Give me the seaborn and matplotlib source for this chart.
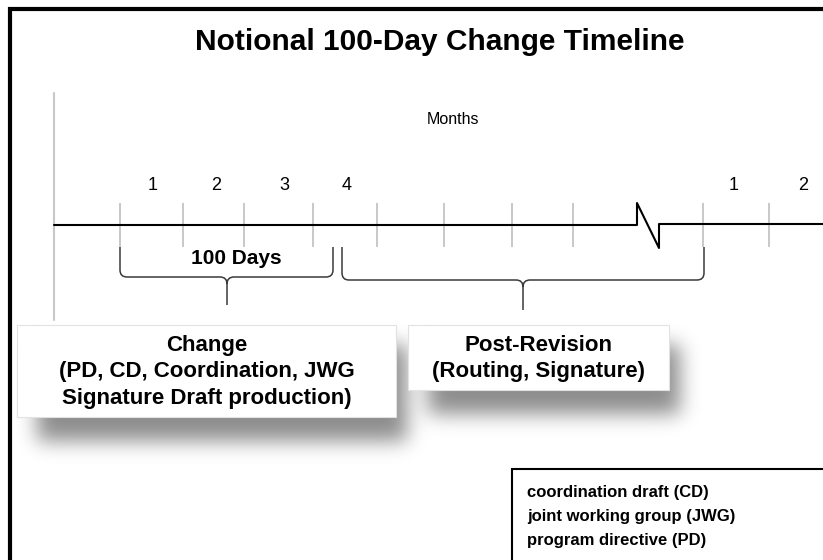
import numpy as np
import matplotlib
matplotlib.use("Agg")
from matplotlib import pyplot as plt
from matplotlib.path import Path
from matplotlib.patches import PathPatch, Rectangle
import seaborn as sns

# picture is laid out in pixel units (x right, y down)
W, H = 823, 560

title = "Notional 100-Day Change Timeline"
tick_x = [120, 183, 244, 313, 377, 444, 512, 573, 703, 769]
month_labels = ["1", "2", "3", "4", "1", "2"]
month_x = [153, 216, 284, 347, 734, 803]
line_x = [54, 637, 637, 659, 659, 823]
line_y = [225, 225, 203, 248, 224, 224]
brace_left = [120, 342]
brace_right = [333, 704]
brace_mid = [227, 523]
brace_level = [277, 280]
brace_tip = [305, 310]
box_texts = ["Change\n(PD, CD, Coordination, JWG\nSignature Draft production)",
             "Post-Revision\n(Routing, Signature)"]
box_rects = [(17, 325, 396, 417), (408, 325, 669, 390)]
legend_lines = ["coordination draft (CD)", "joint working group (JWG)",
                "program directive (PD)"]

sns.set_theme(style="white")
plt.rcParams['font.family'] = ['Liberation Sans', 'DejaVu Sans']
plt.rcParams['text.color'] = 'black'

dpi = 100
fig = plt.figure(figsize=(W / dpi, H / dpi), dpi=dpi)
ax = fig.add_axes([0, 0, 1, 1])
ax.set_xlim(0, W)
ax.set_ylim(H, 0)
ax.axis("off")


def blur(a, s):
    r = int(3 * s)
    k = np.exp(-0.5 * (np.arange(-r, r + 1) / s) ** 2)
    k /= k.sum()
    a = np.apply_along_axis(lambda m: np.convolve(m, k, mode='same'), 0, a)
    a = np.apply_along_axis(lambda m: np.convolve(m, k, mode='same'), 1, a)
    return a


def brace(x0, x1, xm, ytop, yh, ytip, r=7):
    M, L, C = Path.MOVETO, Path.LINETO, Path.CURVE3
    verts = [(x0, ytop), (x0, yh - r), (x0, yh), (x0 + r, yh),
             (xm - r, yh), (xm, yh), (xm, yh + r), (xm, ytip),
             (xm, yh + r), (xm, yh), (xm + r, yh),
             (x1 - r, yh), (x1, yh), (x1, yh - r), (x1, ytop)]
    codes = [M, L, C, C, L, C, C, L, M, C, C, L, C, C, L]
    ax.add_patch(PathPatch(Path(verts, codes), fill=False,
                           edgecolor="#3a3a3a", lw=1.1, zorder=3))


# outer frame
ax.plot([10, 10, W + 5], [H + 5, 9, 9], color="black", lw=3, zorder=5,
        solid_joinstyle="miter")

ax.text(440, 42, title, ha="center", va="center", fontsize=21.5,
        fontweight="bold")

# vertical grey axis
ax.plot([54, 54], [93, 320], color="#c8c8c8", lw=1.5, zorder=1)

ax.text(453, 120, "Months", ha="center", va="center", fontsize=11.5)
for x, lab in zip(month_x, month_labels):
    ax.text(x, 186, lab, ha="center", va="center", fontsize=13)

ax.vlines(tick_x, 203, 247, color="#c4c4c4", lw=1.3, zorder=1)
sns.lineplot(x=line_x, y=line_y, sort=False, estimator=None, color="black",
             lw=1.5, ax=ax, zorder=2)

for x0, x1, xm, yh, yt in zip(brace_left, brace_right, brace_mid,
                              brace_level, brace_tip):
    brace(x0, x1, xm, 247, yh, yt)

ax.text(236, 258, "100 Days", ha="center", va="center", fontsize=15,
        fontweight="bold")

# drop shadows under the two boxes
yy, xx = np.mgrid[0:H, 0:W]
mask = np.zeros((H, W))
for x0, y0, x1, y1 in box_rects:
    mask[(xx >= x0 + 20) & (xx <= x1 + 10) & (yy >= y0 + 20) & (yy <= y1 + 23)] = 1
mask = blur(mask, 10)
rgba = np.zeros((H, W, 4))
rgba[..., 3] = mask * 0.45
ax.imshow(rgba, extent=(0, W, H, 0), zorder=2, interpolation="bilinear",
          aspect="auto")

for (x0, y0, x1, y1), txt in zip(box_rects, box_texts):
    ax.add_patch(Rectangle((x0, y0), x1 - x0, y1 - y0, facecolor="white",
                           edgecolor="#e2e2e2", lw=0.8, zorder=3))
    ax.text((x0 + x1) / 2, (y0 + y1) / 2 + 1, txt, ha="center", va="center",
            fontsize=16, fontweight="bold", linespacing=1.32, zorder=4)

# abbreviation key
ax.add_patch(Rectangle((512, 469), 330, 110, facecolor="white",
                       edgecolor="black", lw=1.5, zorder=3))
for i, s in enumerate(legend_lines):
    ax.text(527, 492 + i * 24, s, ha="left", va="center", fontsize=12,
            fontweight="bold", zorder=4)

plt.savefig("out.png", dpi=dpi)
